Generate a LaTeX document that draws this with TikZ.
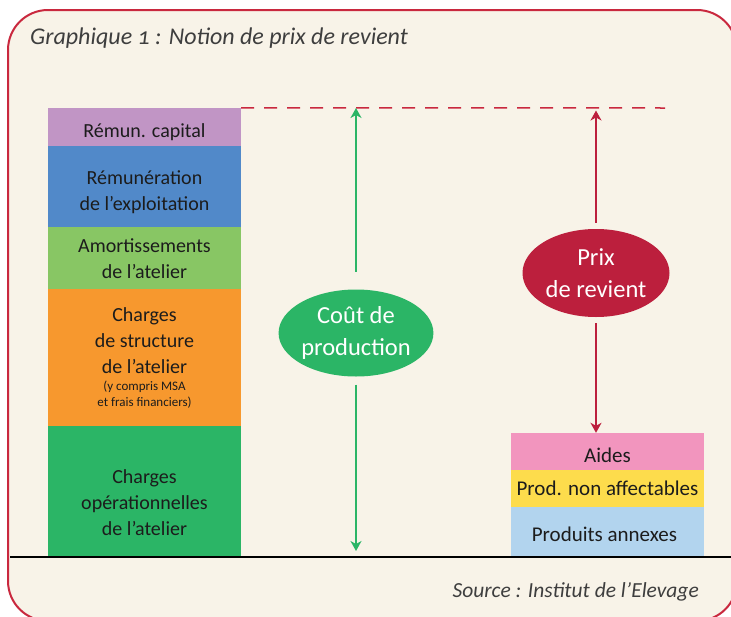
\documentclass[tikz,border=0pt]{standalone}
\usepackage{fontspec}
\setmainfont{Carlito}
\usetikzlibrary{shapes.geometric,arrows.meta}

\definecolor{cadre}{HTML}{C9283E}
\definecolor{fond}{HTML}{F8F3E8}
\definecolor{texte}{HTML}{1C1C1C}
\definecolor{cCapital}{HTML}{C195C5}
\definecolor{cExploit}{HTML}{5189C9}
\definecolor{cAmort}{HTML}{88C664}
\definecolor{cStruct}{HTML}{F7982E}
\definecolor{cOper}{HTML}{2BB566}
\definecolor{cAides}{HTML}{F295BE}
\definecolor{cNonAff}{HTML}{FDDC4C}
\definecolor{cAnnexes}{HTML}{B2D4EE}
\definecolor{cPrix}{HTML}{BC1F3D}

\newcommand{\petit}{\fontsize{13}{16}\selectfont}

\begin{document}
\begin{tikzpicture}[x=1pt,y=-1pt]
\tikzstyle{bloc}=[rectangle, inner sep=0pt, minimum width=193pt]
\tikzstyle{etiquette}=[inner sep=0pt, text=texte, align=center, font=\fontsize{20}{26}\selectfont]
\tikzstyle{bulle}=[ellipse, inner sep=0pt, text=white, align=center, font=\fontsize{24.5}{32}\selectfont]
\tikzstyle{fleche}=[-{Stealth[length=10pt,width=11pt,inset=3pt]}, line width=1.5pt]
    \useasboundingbox (0,0) rectangle (731,616);
    \draw [cadre, line width=2pt, fill=fond, rounded corners=40pt] (8,10) rectangle (737,621);
    \node [anchor=base west, inner sep=0pt, text=texte!85, font=\fontsize{24}{28}\selectfont\itshape] (titre) at (30,44) {Graphique {\addfontfeatures{Numbers=OldStyle}1} : Notion de prix de revient};
    % cout de production
    \node [bloc, fill=cCapital, minimum height=38pt] (cap) at (144.5,127) {};
    \node [bloc, fill=cExploit, minimum height=81pt] (expl) at (144.5,186.5) {};
    \node [bloc, fill=cAmort, minimum height=62pt] (amort) at (144.5,258) {};
    \node [bloc, fill=cStruct, minimum height=137pt] (struct) at (144.5,357.5) {};
    \node [bloc, fill=cOper, minimum height=131pt] (oper) at (144.5,491.5) {};
    \node [etiquette] (tcap) at ([yshift=-5pt]cap.center) {Rémun. capital};
    \node [etiquette] (texpl) at ([yshift=-6pt]expl.center) {Rémunération\\de l'exploitation};
    \node [etiquette] (tamort) at ([yshift=-1pt]amort.center) {Amortissements\\de l'atelier};
    \node [etiquette] (tstruct) at (struct.center) {Charges\\de structure\\de l'atelier\\[-9pt]\petit (y compris MSA\\[-10pt]\petit et frais financiers)};
    \node [etiquette] (toper) at ([yshift=-11pt]oper.center) {Charges\\opérationnelles\\de l'atelier};
    % produits
    \node [bloc, fill=cAides, minimum height=37pt] (aides) at (607.5,451.5) {};
    \node [bloc, fill=cNonAff, minimum height=37pt] (nonaff) at (607.5,488.5) {};
    \node [bloc, fill=cAnnexes, minimum height=50pt] (annexes) at (607.5,532) {};
    \node [etiquette, font=\fontsize{21}{26}\selectfont] (taides) at ([yshift=-4pt]aides.center) {Aides};
    \node [etiquette, font=\fontsize{21}{26}\selectfont] (tnonaff) at (nonaff.center) {Prod. non affectables};
    \node [etiquette, font=\fontsize{21}{26}\selectfont] (tannexes) at ([xshift=-3pt,yshift=-2pt]annexes.center) {Produits annexes};
    % bulles
    \node [bulle, fill=cOper, minimum width=145pt, minimum height=87pt] (cout) at (356,333) {Coût de\\production};
    \node [bulle, fill=cPrix, minimum width=147pt, minimum height=88pt] (prix) at (596,273) {Prix\\de revient};
    \coordinate (pointilles) at (665,108);
    \coordinate (couthaut) at (356,108);
    \coordinate (coutbas) at (356,557);
    \coordinate (prixhaut) at (596,108);
    \draw [cadre, line width=1.5pt, dash pattern=on 13pt off 10pt] (cap.north east) -- (pointilles);
    \draw [fleche, cOper, shorten <=17.5pt] (cout.north) -- (couthaut);
    \draw [fleche, cOper, shorten <=8pt, shorten >=6pt] (cout.south) -- (coutbas);
    \draw [fleche, cPrix, shorten <=6pt, shorten >=2.5pt] (prix.north) -- (prixhaut);
    \draw [fleche, cPrix, shorten <=6pt] (prix.south) -- (prix.south |- aides.north);
    \draw [line width=1.5pt] (10,557) -- (731,557);
    \node [anchor=base east, inner sep=0pt, text=texte!85, font=\fontsize{21.5}{26}\selectfont\itshape] (source) at (699,597) {Source : Institut de l'Elevage};
\end{tikzpicture}
\end{document}
